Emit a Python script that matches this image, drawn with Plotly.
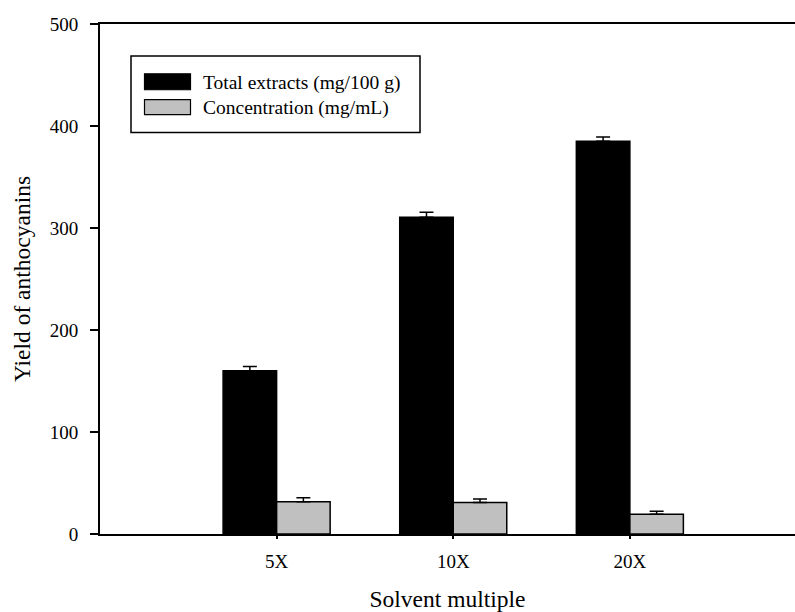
import plotly.graph_objects as go

categories = ["5X", "10X", "20X"]
total_extracts = [160, 310.5, 385]
total_err = [4.2, 4.9, 4.2]
concentration = [31.7, 31.0, 19.3]
conc_err = [3.9, 3.2, 2.9]
series_names = ["Total extracts (mg/100 g)", "Concentration (mg/mL)"]
series_colors = ["#000000", "#c0c0c0"]
y_ticks = [0, 100, 200, 300, 400, 500]

FONT = "Liberation Serif, Times New Roman, serif"
W, H = 795, 612
L, R, T, B = 100, 0, 24, 76

fig = go.Figure()
for name, vals, errs, col in [
    (series_names[0], total_extracts, total_err, series_colors[0]),
    (series_names[1], concentration, conc_err, series_colors[1]),
]:
    fig.add_trace(go.Bar(
        x=categories, y=vals, name=name,
        marker=dict(color=col, line=dict(color="#000000", width=1.5)),
        error_y=dict(type="data", symmetric=False, array=errs,
                     arrayminus=[0] * len(errs), color="#000000",
                     thickness=1.5, width=7),
        showlegend=False,
    ))

pw = W - L - R
ph = H - T - B
def px2x(px):
    return (px - L) / pw
def py2y(py):
    return (H - B - py) / ph

# manual legend (box, swatches, labels)
shapes = [dict(type="rect", xref="paper", yref="paper",
               x0=px2x(131), x1=px2x(420), y0=py2y(133), y1=py2y(56),
               line=dict(color="#000000", width=1.5), fillcolor="white", layer="above")]
annotations = []
rows = [(74, 90, 83), (100, 115, 108)]
for (ytop, ybot, ymid), name, col in zip(rows, series_names, series_colors):
    shapes.append(dict(type="rect", xref="paper", yref="paper",
                       x0=px2x(144.5), x1=px2x(190.5), y0=py2y(ybot), y1=py2y(ytop),
                       line=dict(color="#000000", width=1.2), fillcolor=col, layer="above"))
    annotations.append(dict(xref="paper", yref="paper", x=px2x(201), y=py2y(ymid),
                            text=name, showarrow=False, xanchor="left", yanchor="middle",
                            font=dict(family=FONT, size=19.5, color="#000000")))

fig.update_layout(
    width=W, height=H,
    margin=dict(l=L, r=R, t=T, b=B, pad=0),
    paper_bgcolor="white", plot_bgcolor="white",
    barmode="group", bargap=0.394, bargroupgap=0,
    font=dict(family=FONT, size=19, color="#000000"),
    shapes=shapes, annotations=annotations,
    showlegend=False,
)
fig.update_xaxes(
    type="category", range=[-1, 2.935],
    showline=True, linecolor="#000000", linewidth=2, mirror=True,
    ticks="outside", ticklen=3, tickwidth=1.5, tickcolor="#000000",
    showgrid=False, zeroline=False,
    tickfont=dict(family=FONT, size=19),
    ticklabelstandoff=6,
    title=dict(text="Solvent multiple", font=dict(family=FONT, size=23.5), standoff=24),
)
fig.update_yaxes(
    range=[0, 500], tickvals=y_ticks,
    showline=True, linecolor="#000000", linewidth=2, mirror=False,
    ticks="outside", ticklen=8, tickwidth=1.5, tickcolor="#000000",
    showgrid=False, zeroline=False,
    tickfont=dict(family=FONT, size=19),
    ticklabelstandoff=8,
    title=dict(text="Yield of anthocyanins", font=dict(family=FONT, size=23.5), standoff=12),
)

fig.write_html("out.html")
